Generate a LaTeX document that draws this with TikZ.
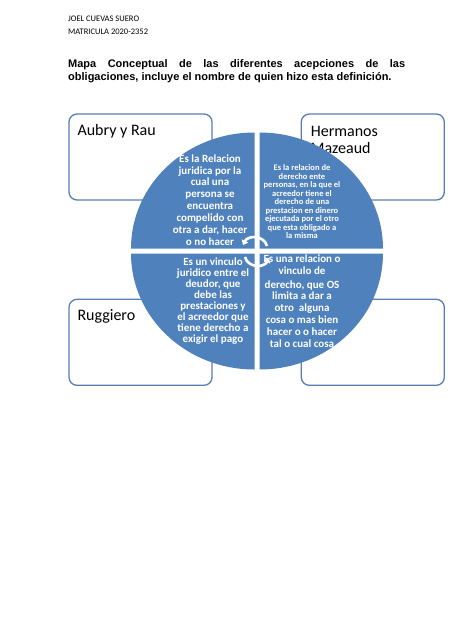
\documentclass[tikz,border=0pt]{standalone}
\usepackage{fontspec}
\setmainfont{Carlito}
\newfontfamily\arialfont{Liberation Sans}
\usepackage{xcolor}
\usetikzlibrary{positioning}
\usetikzlibrary{arrows.meta}

\definecolor{cuadrante}{HTML}{4F81BD}
\definecolor{borde}{RGB}{90,125,180}

\begin{document}
\begin{tikzpicture}[
	x=1pt, y=-1pt,
	caja/.style={draw=borde, line width=1.3pt, fill=white, rounded corners=8pt,
		minimum width=143pt, minimum height=86pt, inner sep=0pt},
	autor/.style={font=\fontsize{16}{17}\selectfont, inner sep=0pt},
	sector/.style={fill=cuadrante},
	definicion/.style={text=white, align=center, inner sep=0pt},
	flecha/.style={draw=white, line width=2.6pt, -{Triangle[length=4.5pt,width=7pt]}}
]
\useasboundingbox (0,0) rectangle (474,632);

% encabezado
\node[
	anchor=base west,
	align=left,
	inner sep=0pt,
	font=\fontsize{8.5}{12.5}\selectfont
] (alumno) at (68,34) {JOEL CUEVAS SUERO\\MATRICULA 2020-2352};

\node[
	anchor=base west,
	inner sep=0pt,
	font=\arialfont\bfseries\fontsize{11}{13.4}\selectfont
] (tituloA) at (68,67.3) {\makebox[337pt][s]{Mapa Conceptual de las diferentes acepciones de las}};

\node[
	anchor=base west,
	inner sep=0pt,
	font=\arialfont\bfseries\fontsize{11}{13.4}\selectfont
] (tituloB) at ([yshift=-13.4pt]tituloA.base west) {obligaciones, incluye el nombre de quien hizo esta definición.};

% cajas de autores
\node[caja] (aubry) at (140.5,157) {};
\node[caja, right=88pt of aubry] (hermanos) {};
\node[caja, below=98pt of aubry] (ruggiero) {};
\node[caja, right=88pt of ruggiero] (vacio) {};

\node[autor, anchor=base west] (aubryTxt) at ([shift={(9,22)}]aubry.north west) {Aubry y Rau};
\node[autor, anchor=north west, align=left] (hermanosTxt) at ([shift={(10,12.5)}]hermanos.north west)
	{Hermanos\\Mazeaud};
\node[autor, anchor=base west] (ruggieroTxt) at ([shift={(9,22)}]ruggiero.north west) {Ruggiero};

% circulo en cuatro partes
\coordinate (centro) at (257,251);
\fill[sector] ([shift={(-2.5,-2.5)}]centro) -- ++(-123.5,0)
	arc[start angle=180, end angle=90, x radius=123.5pt, y radius=116pt] -- cycle;
\fill[sector] ([shift={(2.5,-2.5)}]centro) -- ++(0,-116)
	arc[start angle=90, end angle=0, x radius=123.5pt, y radius=116pt] -- cycle;
\fill[sector] ([shift={(2.5,2.5)}]centro) -- ++(123.5,0)
	arc[start angle=0, end angle=-90, x radius=123.5pt, y radius=116pt] -- cycle;
\fill[sector] ([shift={(-2.5,2.5)}]centro) -- ++(0,116)
	arc[start angle=270, end angle=180, x radius=123.5pt, y radius=116pt] -- cycle;

% definiciones
\node[definicion, font=\bfseries\fontsize{11}{11.9}\selectfont] (defAubry) at (210,200)
	{Es la Relacion\\juridica por la\\cual una\\persona se\\encuentra\\compelido con\\otra a dar, hacer\\o no hacer};
\node[definicion, font=\bfseries\fontsize{8.5}{8.5}\selectfont] (defHermanos) at (302,202)
	{Es la relacion de\\derecho ente\\personas, en la que el\\acreedor tiene el\\derecho de una\\prestacion en dinero\\ejecutada por el otro\\que esta obligado a\\la misma};
\node[definicion, font=\bfseries\fontsize{11}{11}\selectfont] (defRuggiero) at (213,301)
	{Es un vinculo\\juridico entre el\\deudor, que\\debe las\\prestaciones y\\el acreedor que\\tiene derecho a\\exigir el pago};
\node[definicion, font=\bfseries\fontsize{11}{11.8}\selectfont] (defVacio) at (302,301)
	{Es una relacion o\\vinculo de\\[2pt]derecho, que OS\\limita a dar a\\otro\ \ alguna\\cosa o mas bien\\hacer o o hacer\\tal o cual cosa};

% flechas del centro
\coordinate (arribaIni) at (267,246);
\coordinate (arribaFin) at (243,245);
\coordinate (abajoIni) at (245,257);
\coordinate (abajoFin) at (269,258);
\draw[flecha] (arribaIni) .. controls (264,235) and (248,235) .. (arribaFin);
\draw[flecha] (abajoIni) .. controls (248,268) and (264,268) .. (abajoFin);

\end{tikzpicture}
\end{document}
